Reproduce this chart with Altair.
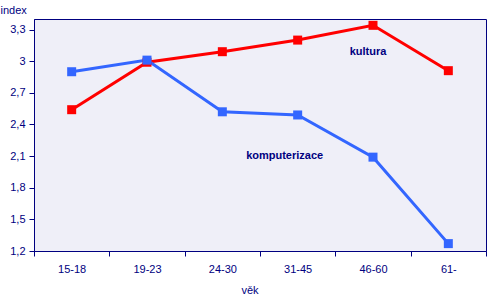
import altair as alt
import pandas as pd

categories = ["15-18", "19-23", "24-30", "31-45", "46-60", "61-"]
kultura = [2.54, 2.99, 3.09, 3.20, 3.34, 2.91]
komputerizace = [2.90, 3.01, 2.52, 2.49, 2.09, 1.27]
y_ticks = [1.2, 1.5, 1.8, 2.1, 2.4, 2.7, 3.0, 3.3]

rows = []
for c, v in zip(categories, kultura):
    rows.append({"vek": c, "index": v, "serie": "kultura", "ord": 0})
for c, v in zip(categories, komputerizace):
    rows.append({"vek": c, "index": v, "serie": "komputerizace", "ord": 1})
df = pd.DataFrame(rows)

label_vek = ["46-60", "31-45"]
label_index = [3.086, 2.105]
label_txt = ["kultura", "komputerizace"]
labels = pd.DataFrame({"vek": label_vek, "index": label_index, "txt": label_txt})

NAVY = "#000080"
FONT = "Liberation Sans"

x = alt.X("vek:N", sort=categories,
          scale=alt.Scale(domain=categories, paddingInner=0, paddingOuter=0),
          axis=alt.Axis(title="věk", labelAngle=0, tickBand="extent", tickSize=5,
                        labelPadding=7, titleAngle=0, titleX=207, titleY=42,
                        titleAlign="left", titleBaseline="alphabetic",
                        titleFontWeight="normal", labelOverlap=False))
y = alt.Y("index:Q", scale=alt.Scale(domain=[1.2, 3.4], nice=False, zero=False),
          axis=alt.Axis(title="index", values=y_ticks, tickSize=5, labelPadding=4,
                        labelExpr="replace(format(datum.value, '.1~f'), '.', ',')",
                        labelOverlap=False, labelFlush=False,
                        titleAngle=0, titleX=-34, titleY=-6, titleAlign="left",
                        titleBaseline="alphabetic", titleFontWeight="normal",
                        grid=False))
color = alt.Color("serie:N",
                  scale=alt.Scale(domain=["kultura", "komputerizace"],
                                  range=["#FF0000", "#3366FF"]),
                  legend=None)

base = alt.Chart(df)
lines = base.mark_line(strokeWidth=3).encode(x=x, y=y, color=color, detail="serie:N", order="ord:Q")
pts_k = base.transform_filter("datum.serie == 'kultura'").mark_square(size=81, opacity=1).encode(x=x, y=y, color=color)
pts_c = base.transform_filter("datum.serie == 'komputerizace'").mark_square(size=81, opacity=1).encode(x=x, y=y, color=color)

text_k = alt.Chart(labels).transform_filter("datum.txt == 'kultura'").mark_text(
    font=FONT, fontSize=11, fontWeight="bold", color=NAVY, align="center", dx=-5).encode(
    x=x, y=y, text="txt:N")
text_c = alt.Chart(labels).transform_filter("datum.txt == 'komputerizace'").mark_text(
    font=FONT, fontSize=11, fontWeight="bold", color=NAVY, align="center", dx=-13).encode(
    x=x, y=y, text="txt:N")

chart = alt.layer(lines, pts_k, pts_c, text_k, text_c).properties(
    width=452, height=232,
    background="white",
    autosize=alt.AutoSizeParams(type="none"),
    padding={"left": 34, "top": 19, "right": 7, "bottom": 47},
).configure_view(
    fill="#EFEFF8", stroke=NAVY, strokeWidth=1
).configure_axis(
    domainColor=NAVY, tickColor=NAVY, labelColor=NAVY, titleColor=NAVY,
    labelFont=FONT, titleFont=FONT, labelFontSize=11, titleFontSize=11,
    domainWidth=1, tickWidth=1, grid=False, labelOverlap=False
)

chart.save("out.html", embed_options={"renderer": "svg", "actions": False})
